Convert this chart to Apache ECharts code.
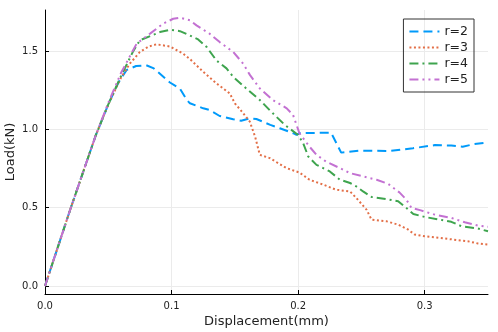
<!DOCTYPE html>
<html>
<head>
<meta charset="utf-8">
<script src="https://cdn.jsdelivr.net/npm/echarts@6/dist/echarts.min.js"></script>
<style>
  html, body { margin: 0; padding: 0; background: #fff; }
  #chart { width: 498px; height: 332px; }
</style>
</head>
<body>
<div id="chart"></div>
<script>
// displacement (mm), load (kN) pairs
var r2 = [[0,0],[0.02,0.49],[0.04,0.96],[0.05,1.16],[0.058,1.3],[0.0645,1.38],[0.072,1.405],[0.08,1.41],[0.086,1.39],
  [0.0987,1.3],[0.1066,1.26],[0.112,1.19],[0.1145,1.167],[0.125,1.135],[0.13,1.124],[0.138,1.086],[0.1487,1.065],
  [0.155,1.056],[0.162,1.071],[0.167,1.067],[0.178,1.029],[0.1855,1.008],[0.196,0.976],[0.1987,0.965],[0.201,0.976],
  [0.226,0.98],[0.234,0.852],[0.2487,0.865],[0.272,0.862],[0.2907,0.88],[0.308,0.9],[0.321,0.897],[0.33,0.89],
  [0.339,0.906],[0.35,0.918]];
var r3 = [[0,0],[0.02,0.49],[0.04,0.96],[0.05,1.16],[0.06,1.33],[0.067,1.42],[0.075,1.495],[0.082,1.53],[0.088,1.544],
  [0.0987,1.53],[0.109,1.485],[0.1145,1.45],[0.125,1.368],[0.1355,1.294],[0.146,1.23],[0.15,1.167],[0.1566,1.103],
  [0.1618,1.05],[0.166,0.954],[0.1697,0.838],[0.1776,0.817],[0.1908,0.753],[0.201,0.725],[0.209,0.679],[0.22,0.647],
  [0.23,0.615],[0.241,0.604],[0.246,0.562],[0.254,0.488],[0.258,0.424],[0.27,0.413],[0.279,0.392],[0.287,0.36],
  [0.292,0.329],[0.3,0.318],[0.316,0.303],[0.334,0.286],[0.342,0.272],[0.35,0.265]];
var r4 = [[0,0],[0.02,0.49],[0.04,0.96],[0.05,1.16],[0.06,1.34],[0.0697,1.5],[0.075,1.57],[0.0908,1.622],[0.0987,1.637],
  [0.1066,1.628],[0.1145,1.6],[0.121,1.575],[0.1277,1.527],[0.1355,1.44],[0.1434,1.39],[0.1487,1.336],[0.159,1.262],
  [0.1697,1.188],[0.18,1.103],[0.1895,1.029],[0.2,0.965],[0.204,0.912],[0.208,0.827],[0.2145,0.774],[0.225,0.732],
  [0.233,0.679],[0.241,0.658],[0.246,0.636],[0.2513,0.604],[0.258,0.569],[0.272,0.552],[0.279,0.541],[0.2855,0.499],
  [0.291,0.46],[0.3,0.441],[0.312,0.424],[0.321,0.41],[0.329,0.382],[0.342,0.367],[0.35,0.35]];
var r5 = [[0,0],[0.02,0.49],[0.04,0.96],[0.05,1.17],[0.06,1.36],[0.0724,1.548],[0.083,1.612],[0.0934,1.676],[0.1013,1.707],
  [0.1066,1.714],[0.1145,1.697],[0.1197,1.665],[0.13,1.612],[0.138,1.558],[0.1487,1.495],[0.1566,1.42],[0.162,1.347],
  [0.1697,1.262],[0.18,1.188],[0.191,1.135],[0.196,1.092],[0.201,0.976],[0.209,0.89],[0.2145,0.838],[0.222,0.795],
  [0.233,0.753],[0.241,0.721],[0.2513,0.7],[0.262,0.679],[0.271,0.653],[0.28,0.598],[0.2855,0.552],[0.2895,0.499],
  [0.297,0.483],[0.308,0.456],[0.321,0.435],[0.3316,0.407],[0.342,0.386],[0.35,0.378]];

var seriesNames = ['r=2', 'r=3', 'r=4', 'r=5'];
var xTicks = [0, 0.1, 0.2, 0.3];
var yTicks = [0, 0.5, 1.0, 1.5];

var colors = ['#009AFA', '#E36F47', '#3EA44E', '#C371D2'];
var dashes = [[9, 5], [2, 2.5], [9, 4, 2, 4], [9, 4, 2, 4, 2, 4]];
var datasets = [r2, r3, r4, r5];

var font = 'DejaVu Sans';

var series = seriesNames.map(function (name, i) {
  return {
    name: name,
    type: 'line',
    data: datasets[i],
    symbol: 'none',
    animation: false,
    lineStyle: { color: colors[i], width: 2, type: dashes[i] },
    itemStyle: { color: colors[i], opacity: 0 }
  };
});

var chart = echarts.init(document.getElementById('chart'));
chart.setOption({
  backgroundColor: '#fff',
  animation: false,
  grid: { left: 45, right: 10, top: 10, bottom: 38, containLabel: false, outerBoundsMode: 'none' },
  legend: {
    orient: 'vertical',
    right: 24,
    top: 19,
    data: seriesNames,
    borderColor: '#333',
    borderWidth: 1,
    borderRadius: 0,
    padding: [6, 6, 6, 5],
    itemGap: 3,
    itemWidth: 30,
    itemHeight: 12,
    itemStyle: { opacity: 0 },
    textStyle: { fontFamily: font, fontSize: 12.5, color: '#222' }
  },
  xAxis: {
    type: 'value',
    min: 0,
    max: 0.35,
    name: 'Displacement(mm)',
    nameLocation: 'middle',
    nameGap: 21,
    nameMoveOverlap: false,
    nameTextStyle: { fontFamily: font, fontSize: 13, color: '#222' },
    axisLine: { show: true, onZero: false, lineStyle: { color: '#000', width: 1 } },
    axisTick: { show: true, inside: true, length: 4, customValues: xTicks, lineStyle: { color: '#000' } },
    axisLabel: { customValues: xTicks, fontFamily: font, fontSize: 10, color: '#222', margin: 7,
      formatter: function (v) { return v.toFixed(1); } },
    splitLine: { show: true, lineStyle: { color: '#ebebeb', width: 1 } }
  },
  yAxis: {
    type: 'value',
    min: -0.051,
    max: 1.763,
    name: 'Load(kN)',
    nameLocation: 'middle',
    nameGap: 28,
    nameMoveOverlap: false,
    nameTextStyle: { fontFamily: font, fontSize: 13, color: '#222' },
    axisLine: { show: true, onZero: false, lineStyle: { color: '#000', width: 1 } },
    axisTick: { show: true, inside: true, length: 4, customValues: yTicks, lineStyle: { color: '#000' } },
    axisLabel: { customValues: yTicks, fontFamily: font, fontSize: 10, color: '#222', margin: 7,
      formatter: function (v) { return v.toFixed(1); } },
    splitLine: { show: true, lineStyle: { color: '#ebebeb', width: 1 } }
  },
  series: series
});
</script>
</body>
</html>
